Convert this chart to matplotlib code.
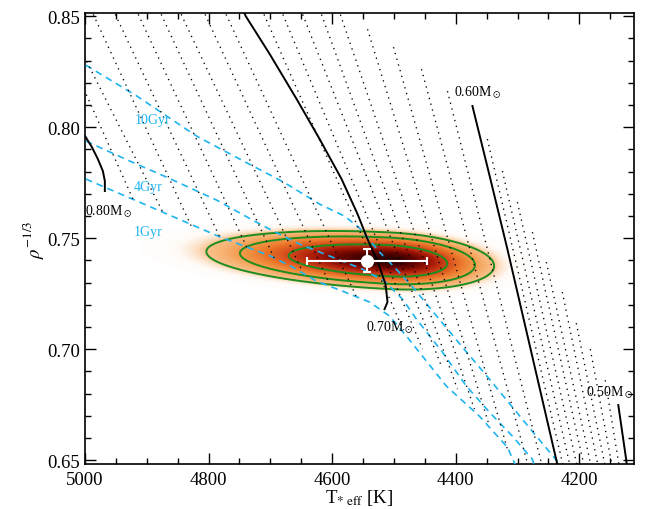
import numpy as np
import matplotlib
matplotlib.use('Agg')
import matplotlib.pyplot as plt
from matplotlib.colors import LinearSegmentedColormap
from matplotlib.ticker import MultipleLocator, FormatStrFormatter

plt.rcParams['font.family'] = ['Liberation Serif', 'DejaVu Serif']
plt.rcParams['mathtext.fontset'] = 'stix'

# ---------------- data ----------------
# solid mass tracks
track080_T = [5001.6, 4988.7, 4979.0, 4970.9, 4967.7, 4967.7]
track080_rho = [0.7968, 0.7910, 0.7856, 0.7802, 0.7757, 0.7712]
track070_T = [4746.0, 4739.8, 4701.0, 4657.4, 4620.2, 4584.7, 4558.8, 4542.7, 4526.6,
              4513.6, 4510.4, 4515.2]
track070_rho = [0.8540, 0.8500, 0.8329, 0.8126, 0.7946, 0.7766, 0.7608, 0.7495, 0.7396,
                0.7293, 0.7212, 0.7180]
track060_T = [4373.0, 4343.9, 4316.4, 4237.2, 4234.0]
track060_rho = [0.8095, 0.7766, 0.7450, 0.6500, 0.6459]
track050_T = [4137.0, 4124.1, 4122.5]
track050_rho = [0.6748, 0.6500, 0.6459]

# dotted mass tracks (upper end -> lower end)
dotted_mass = [0.79, 0.78, 0.77, 0.76, 0.75, 0.74, 0.73, 0.72, 0.71, 0.69, 0.68, 0.67,
               0.66, 0.65, 0.64, 0.63, 0.62, 0.61, 0.59, 0.58, 0.57, 0.56, 0.55, 0.54,
               0.53, 0.52, 0.51]
dotted_top_T = [5001.6, 5001.6, 4990.5, 4954.9, 4917.7, 4880.6, 4848.3, 4809.5, 4775.5,
                4714.1, 4683.4, 4651.1, 4620.4, 4589.7, 4542.7, 4500.7, 4455.4, 4413.4,
                4348.8, 4324.5, 4300.3, 4276.0, 4253.4, 4227.6, 4205.0, 4182.3, 4158.1]
dotted_top_rho = [0.8171, 0.8320, 0.8532, 0.8532, 0.8532, 0.8532, 0.8532, 0.8532, 0.8532,
                  0.8532, 0.8532, 0.8532, 0.8532, 0.8532, 0.8441, 0.8360, 0.8261, 0.8162,
                  0.7946, 0.7802, 0.7662, 0.7527, 0.7392, 0.7257, 0.7117, 0.7000, 0.6860]
dotted_bot_T = [4920.8, 4872.3, 4827.1, 4780.2, 4736.6, 4691.3, 4647.7, 4604.1, 4560.5,
                4484.5, 4453.8, 4423.1, 4397.2, 4369.8, 4345.5, 4316.4, 4282.5, 4259.9,
                4225.9, 4214.6, 4203.3, 4192.0, 4180.7, 4169.4, 4158.1, 4146.8, 4135.4]
dotted_bot_rho = [0.7667, 0.7608, 0.7549, 0.7495, 0.7450, 0.7396, 0.7347, 0.7293, 0.7234,
                  0.7085, 0.7000, 0.6923, 0.6820, 0.6730, 0.6653, 0.6549, 0.6470, 0.6470,
                  0.6470, 0.6470, 0.6470, 0.6470, 0.6470, 0.6470, 0.6470, 0.6470, 0.6470]

# isochrones
iso10_T = [4998.4, 4916.0, 4819.0, 4749.5, 4678.4, 4620.2, 4579.8, 4555.6, 4523.3, 4499.0,
           4466.7, 4429.5, 4389.2, 4345.5, 4308.4, 4269.6, 4235.6, 4230.8]
iso10_rho = [0.8279, 0.8140, 0.7959, 0.7856, 0.7752, 0.7653, 0.7599, 0.7545, 0.7437, 0.7369,
             0.7270, 0.7144, 0.7009, 0.6865, 0.6739, 0.6608, 0.6495, 0.6459]
iso4_T = [4998.4, 4927.3, 4861.0, 4786.7, 4728.5, 4701.0, 4652.6, 4599.2, 4550.8, 4515.2,
          4486.1, 4463.5, 4421.5, 4382.7, 4345.5, 4308.4, 4276.0, 4271.2]
iso4_rho = [0.7937, 0.7847, 0.7766, 0.7671, 0.7581, 0.7540, 0.7473, 0.7414, 0.7360, 0.7306,
            0.7225, 0.7135, 0.6986, 0.6833, 0.6716, 0.6608, 0.6504, 0.6459]
iso1_T = [4998.4, 4893.3, 4780.2, 4699.4, 4663.9, 4625.1, 4583.1, 4539.4, 4507.1, 4479.6,
          4415.0, 4361.7, 4316.4, 4300.3]
iso1_rho = [0.7766, 0.7640, 0.7504, 0.7419, 0.7369, 0.7306, 0.7261, 0.7212, 0.7149, 0.7058,
            0.6833, 0.6698, 0.6558, 0.6459]

# measurement
star_T, star_T_err = 4544.0, 97.0
star_rho, star_rho_err = 0.7398, 0.0052

# posterior shape (split gaussian)
post_T_peak, post_sig_hot, post_sig_cool = 4507.0, 121.0, 69.0
post_rho_peak, post_sig_rho, post_tilt = 0.7398, 0.0052, 1.39e-5
post_levels = [0.0497, 0.135, 0.402]

# ---------------- figure ----------------
fig = plt.figure(figsize=(6.48, 5.10), dpi=100)
ax = fig.add_axes([0.131, 0.088, 0.847, 0.885])

Tg = np.linspace(4100, 5000, 500)
Rg = np.linspace(0.69, 0.79, 320)
TT, RR = np.meshgrid(Tg, Rg)
dT = TT - post_T_peak
sig = np.where(dT > 0, post_sig_hot, post_sig_cool)
dr = RR - (post_rho_peak + post_tilt * dT)
dens = np.exp(-0.5 * ((dT / sig) ** 2 + (dr / post_sig_rho) ** 2))

cmap = LinearSegmentedColormap.from_list('heat', [
    (0.0, '#ffffff'), (0.015, '#fffaf6'), (0.032, '#fde2c8'), (0.05, '#f9bf88'),
    (0.135, '#f39a4a'), (0.25, '#ea7428'), (0.40, '#d2461a'), (0.6, '#a81a08'),
    (0.8, '#6a0500'), (1.0, '#2a0000')])
ax.imshow(dens, extent=(Tg[0], Tg[-1], Rg[0], Rg[-1]), origin='lower', aspect='auto',
          cmap=cmap, vmin=0, vmax=1, interpolation='bilinear', zorder=0)
ax.contour(TT, RR, dens, levels=post_levels, colors='#1e8c1e', linewidths=1.4, zorder=2)

cyan = '#1eb4f0'
for Tv, Rv in [(iso10_T, iso10_rho), (iso4_T, iso4_rho), (iso1_T, iso1_rho)]:
    ax.plot(Tv, Rv, color=cyan, lw=1.2, dashes=(4, 3), zorder=3)

for i in range(len(dotted_mass)):
    ax.plot([dotted_top_T[i], dotted_bot_T[i]], [dotted_top_rho[i], dotted_bot_rho[i]],
            color='black', lw=0.95, linestyle=(0, (1, 3.5)), zorder=3)

for Tv, Rv in [(track080_T, track080_rho), (track070_T, track070_rho),
               (track060_T, track060_rho), (track050_T, track050_rho)]:
    ax.plot(Tv, Rv, color='black', lw=1.4, zorder=4)

ax.errorbar([star_T], [star_rho], xerr=[star_T_err], yerr=[star_rho_err], fmt='o',
            color='white', ms=8.5, mec='white', ecolor='white', elinewidth=1.5,
            capsize=3, capthick=1.5, zorder=6)

ax.text(4890, 0.8036, '10Gyr', color=cyan, fontsize=10, ha='center', va='center')
ax.text(4898, 0.7734, '4Gyr', color=cyan, fontsize=10, ha='center', va='center')
ax.text(4898, 0.7531, '1Gyr', color=cyan, fontsize=10, ha='center', va='center')
ax.text(5000, 0.7626, '0.80M$_\\odot$', fontsize=10, ha='left', va='center')
ax.text(4545, 0.7103, '0.70M$_\\odot$', fontsize=10, ha='left', va='center')
ax.text(4403, 0.8158, '0.60M$_\\odot$', fontsize=10, ha='left', va='center')
ax.text(4189, 0.6810, '0.50M$_\\odot$', fontsize=10, ha='left', va='center')

ax.set_xlim(5000, 4112)
ax.set_ylim(0.6482, 0.8515)
ax.xaxis.set_major_locator(MultipleLocator(200))
ax.xaxis.set_minor_locator(MultipleLocator(50))
ax.yaxis.set_major_locator(MultipleLocator(0.05))
ax.yaxis.set_minor_locator(MultipleLocator(0.01))
ax.yaxis.set_major_formatter(FormatStrFormatter('%.2f'))
ax.tick_params(which='both', direction='in', top=True, right=True, labelsize=13.5, width=1.0)
ax.tick_params(which='major', length=8)
ax.tick_params(which='minor', length=4.5)
ax.tick_params(axis='x', which='both', pad=5)
for s in ax.spines.values():
    s.set_linewidth(1.2)
ax.set_xlabel('T$_{*\\ \\rm eff}$ [K]', fontsize=13.5, labelpad=-1)
ax.set_ylabel('$\\rho^{-1/3}$', fontsize=13.5, labelpad=1)

fig.savefig('out.png', dpi=100)
